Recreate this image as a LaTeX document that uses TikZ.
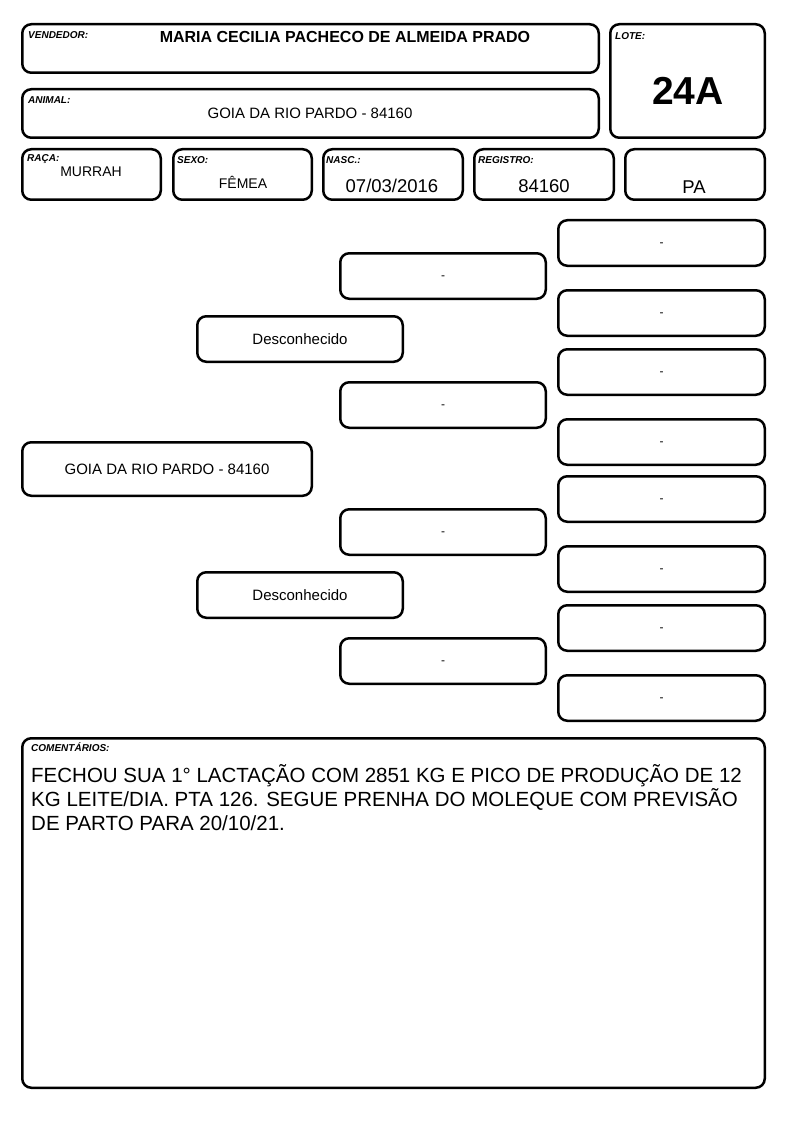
\documentclass[tikz,border=0pt]{standalone}
\usepackage{fontspec}
\setmainfont{Liberation Sans}
\newcommand\rbox[6]{\node[box,minimum width={#4-#2-2.5},minimum height={#5-#3-2.5}] (#1) at ({(#2+#4)/2},{(#3+#5)/2}) {#6};}
\newcommand\nilmark{\fontsize{12}{14}\selectfont\vphantom{x}-}
\begin{document}
\begin{tikzpicture}[x=1pt,y=-1pt,
  box/.style={draw, line width=2.5pt, rounded corners=9pt, inner sep=0pt, font=\fontsize{15}{18}\selectfont},
  lbl/.style={inner sep=0pt, anchor=base west, font=\bfseries\itshape\fontsize{10}{12}\selectfont},
  val/.style={inner sep=0pt, anchor=base, font=\fontsize{14}{17}\selectfont},
  bigval/.style={inner sep=0pt, anchor=base, font=\fontsize{18.5}{22}\selectfont},
  cline/.style={inner sep=0pt, anchor=base west, font=\fontsize{20.5}{24}\selectfont}]
\useasboundingbox (0,0) rectangle (794,1123);
% header boxes
\rbox{vend}{21}{23}{600}{74}{}
\rbox{anim}{21}{88}{600}{139}{}
\rbox{lote}{609}{23}{766}{139}{}
\rbox{raca}{21}{148}{162}{201}{}
\rbox{sexo}{172}{148}{313}{201}{}
\rbox{nasc}{322}{148}{464}{201}{}
\rbox{reg}{473}{148}{615}{201}{}
\rbox{pa}{624}{148}{766}{201}{}
\rbox{com}{21}{737}{766}{1089}{}
% labels
\node[lbl] (lv) at (28,39) {VENDEDOR:};
\node[lbl] (la) at (28,104) {ANIMAL:};
\node[lbl] (ll) at (615,40) {LOTE:};
\node[lbl] (lr) at (27,161.5) {RAÇA:};
\node[lbl] (ls) at (177,164) {SEXO:};
\node[lbl] (ln) at (326,164) {NASC.:};
\node[lbl] (lg) at (478,164) {REGISTRO:};
\node[lbl] (lc) at (31,751.5) {COMENTÁRIOS:};
% values
\node[inner sep=0pt, anchor=base, font=\bfseries\fontsize{16}{19}\selectfont] (vname) at (345,42.7) {MARIA CECILIA PACHECO DE ALMEIDA PRADO};
\node[inner sep=0pt, anchor=base, font=\fontsize{15}{18}\selectfont] (aname) at (310,118.5) {GOIA DA RIO PARDO - 84160};
\node[inner sep=0pt, anchor=base, font=\bfseries\fontsize{39}{44}\selectfont] (lnum) at (688,105) {24A};
\node[val] (vraca) at (91,177) {MURRAH};
\node[val] (vsexo) at (243,189) {FÊMEA};
\node[bigval] (vnasc) at (392,192.6) {07/03/2016};
\node[bigval] (vreg) at (544,193) {84160};
\node[bigval] (vpa) at (694,194) {PA};
% comments
\node[cline] (c1) at (31,782) {FECHOU SUA 1° LACTAÇÃO COM 2851 KG E PICO DE PRODUÇÃO DE 12};
\node[cline] (c2) at (31,806) {KG LEITE/DIA. PTA 126. SEGUE PRENHA DO MOLEQUE COM PREVISÃO};
\node[cline] (c3) at (31,830) {DE PARTO PARA 20/10/21.};
% pedigree
\rbox{p0}{21}{441}{313}{497}{GOIA DA RIO PARDO - 84160}
\rbox{s}{196}{315}{404}{363}{Desconhecido}
\rbox{d}{196}{571}{404}{619}{Desconhecido}
\rbox{ss}{339}{252}{547}{300}{\nilmark}
\rbox{sd}{339}{381}{547}{429}{\nilmark}
\rbox{ds}{339}{508}{547}{556}{\nilmark}
\rbox{dd}{339}{637}{547}{685}{\nilmark}
\rbox{sss}{557}{219}{766}{267}{\nilmark}
\rbox{ssd}{557}{289}{766}{337}{\nilmark}
\rbox{sds}{557}{348}{766}{396}{\nilmark}
\rbox{sdd}{557}{418}{766}{466}{\nilmark}
\rbox{dss}{557}{475}{766}{523}{\nilmark}
\rbox{dsd}{557}{545}{766}{593}{\nilmark}
\rbox{dds}{557}{604}{766}{652}{\nilmark}
\rbox{ddd}{557}{674}{766}{722}{\nilmark}
\end{tikzpicture}
\end{document}
